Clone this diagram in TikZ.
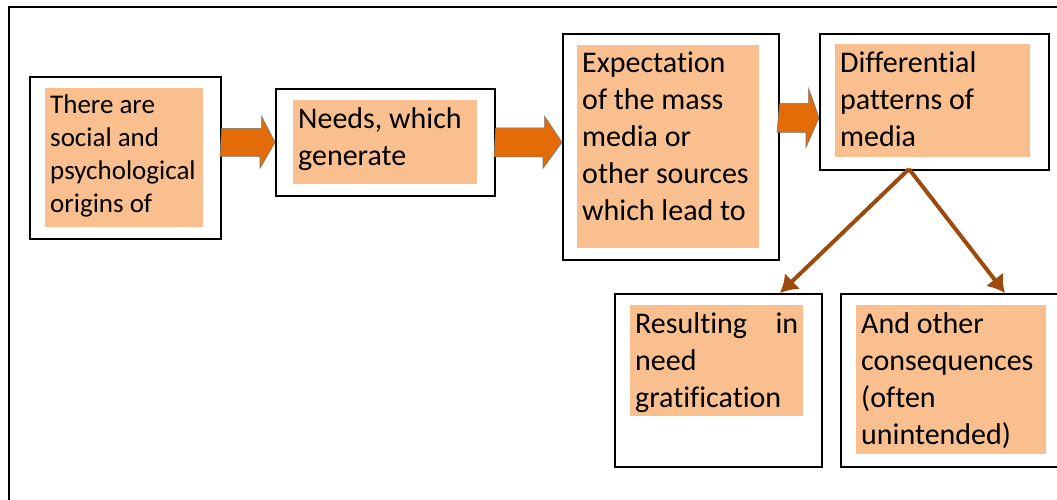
\documentclass[tikz,border=0pt]{standalone}
\usepackage{fontspec}
\setmainfont{Carlito}[Ligatures=NoCommon]
\usepackage{xcolor}
\definecolor{ppeach}{HTML}{FABF8F}
\definecolor{oorange}{HTML}{E36C09}
\definecolor{bbrown}{HTML}{9C4A0E}
\usepackage{tikz}
\usetikzlibrary{calc}
\usetikzlibrary{arrows.meta}

\begin{document}
\begin{tikzpicture}[x=1pt,y=-1pt,
		box/.style={draw, line width=1.6pt, anchor=north west, inner sep=0pt},
		txt/.style={fill=ppeach, anchor=north west, inner xsep=5pt, inner ysep=7pt, font=\fontsize{30}{37}\selectfont},
		bigarr/.style={fill=oorange, draw=black!55, line width=.6pt}]
				\useasboundingbox (0,0) rectangle (1057,499);
				\clip (0,0) rectangle (1057,499);
				\draw[line width=1.6pt] (9,510) -- (9,7) -- (1070,7);
				% outer boxes
				\node[box, minimum width=191, minimum height=162] (n0) at (29,76) {};
				\node[box, minimum width=219, minimum height=107] (n1) at (275,88) {};
				\node[box, minimum width=216, minimum height=226] (n2) at (562,33) {};
				\node[box, minimum width=229, minimum height=136] (n3) at (819,33) {};
				\node[box, minimum width=207, minimum height=173] (n4) at (614,293) {};
				\node[box, minimum width=222, minimum height=173] (n5) at (840,293) {};
				% texts
				\node[txt, font=\fontsize{27}{33}\selectfont] (t0) at (45,88) {\parbox[t][125pt][t]{148pt}{There are\\social and\\psychological\\origins of}};
				\node[txt] (t1) at (293,100) {\parbox[t][70pt][t]{174pt}{Needs, which\\generate}};
				\node[txt] (t2) at (577,45) {\parbox[t][189pt][t]{172pt}{Expectation\\of the mass\\media or\\other sources\\which lead to}};
				\node[txt] (t3) at (835,44) {\parbox[t][99pt][t]{185pt}{Differential\\patterns of\\media}};
				\node[txt] (t4) at (630,305) {\parbox[t][97pt][t]{163pt}{Resulting\hfill in\\need\\gratification}};
				\node[txt] (t5) at (856,305) {\parbox[t][135pt][t]{180pt}{And other\\consequences\\(often\\unintended)}};
				% block arrows
				\filldraw[bigarr] (n0.east |- n1.west) ++(0,-14) -- ++(40,0) -- ++(0,-12) -- (n1.west) -- ++(-15,26) -- ++(0,-12) -- ++(-40,0) -- cycle;
				\filldraw[bigarr] (n1.east) ++(0,-14.5) -- ++(49,0) -- ++(0,-11.5) -- (n1.east -| n2.west) -- ++(-19,26) -- ++(0,-11.5) -- ++(-49,0) -- cycle;
				\coordinate (a3) at ($(n3.west)+(0,16)$);
				\filldraw[bigarr] (n2.east |- a3) ++(0,-14.5) -- ++(29,0) -- ++(0,-15) -- (a3) -- ++(-13,29.5) -- ++(0,-15) -- ++(-29,0) -- cycle;
				% split
				\coordinate (c0) at (909,169);
				\coordinate (c1) at (780,293);
				\coordinate (c2) at (1005,293);
				\draw (c0) edge [line width=4pt, bbrown, -{Latex[length=17pt,width=22pt]}] (c1);
				\draw (c0) edge [line width=4pt, bbrown, -{Latex[length=17pt,width=22pt]}] (c2);
			\end{tikzpicture}
\end{document}
